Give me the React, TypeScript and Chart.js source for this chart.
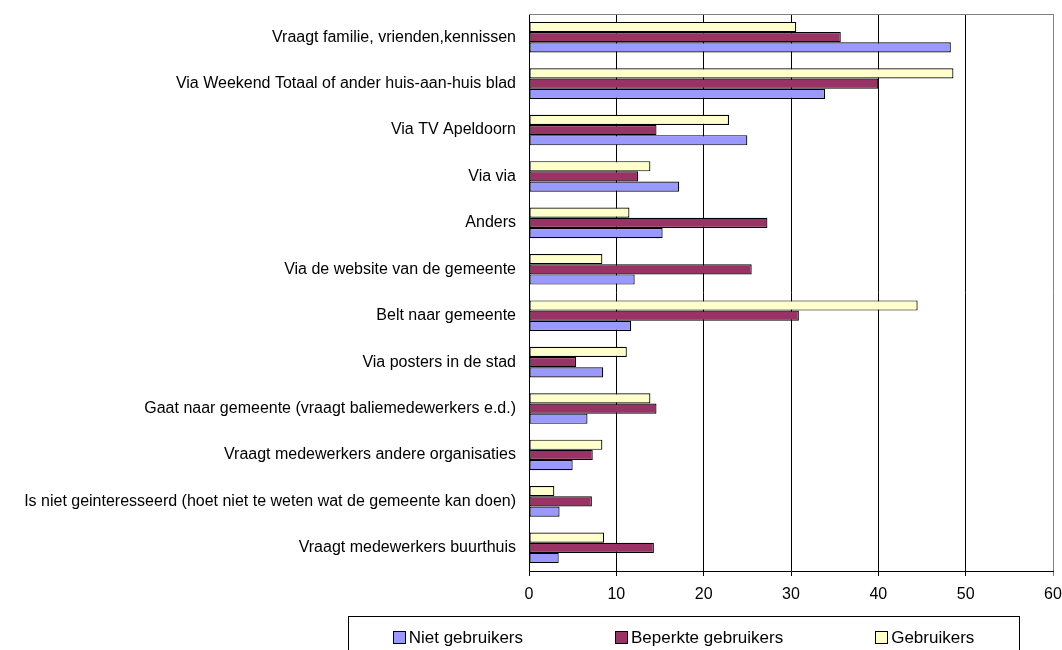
import React, { useEffect, useRef } from "react";
import { Chart, registerables } from "chart.js";

Chart.register(...registerables);

const categories = [
  "Vraagt familie, vrienden,kennissen",
  "Via Weekend Totaal of ander huis-aan-huis blad",
  "Via TV Apeldoorn",
  "Via via",
  "Anders",
  "Via de website van de gemeente",
  "Belt naar gemeente",
  "Via posters in de stad",
  "Gaat naar gemeente (vraagt baliemedewerkers e.d.)",
  "Vraagt medewerkers andere organisaties",
  "Is niet geinteresseerd (hoet niet te weten wat de gemeente kan doen)",
  "Vraagt medewerkers buurthuis",
];

const nietGebruikers = [48.3, 33.9, 25.0, 17.2, 15.3, 12.1, 11.7, 8.5, 6.7, 5.0, 3.5, 3.4];
const beperkteGebruikers = [35.7, 40.0, 14.6, 12.5, 27.3, 25.5, 30.9, 5.4, 14.6, 7.3, 7.2, 14.3];
const gebruikers = [30.6, 48.6, 22.9, 13.9, 11.5, 8.4, 44.5, 11.2, 13.9, 8.4, 2.9, 8.6];

const xMin = 0;
const xMax = 60;
const xStep = 10;

const FONT = '"Liberation Sans", Arial, sans-serif';

const frameAndLegend = {
  id: "frameAndLegend",
  beforeDatasetsDraw(chart: any) {
    const { ctx, chartArea } = chart;
    ctx.save();
    ctx.strokeStyle = "#808080";
    ctx.lineWidth = 1;
    ctx.beginPath();
    ctx.moveTo(chartArea.left, Math.round(chartArea.top) + 0.5);
    ctx.lineTo(chartArea.right, Math.round(chartArea.top) + 0.5);
    ctx.stroke();
    ctx.restore();
  },
  afterDraw(chart: any) {
    const ctx = chart.ctx;
    const boxLeft = 348;
    const boxRight = 1019;
    const boxTop = 616;
    const cy = 637;
    ctx.save();
    ctx.strokeStyle = "#000";
    ctx.lineWidth = 1;
    ctx.strokeRect(boxLeft + 0.5, boxTop + 0.5, boxRight - boxLeft, 60);
    ctx.font = "17px " + FONT;
    ctx.textBaseline = "middle";
    ctx.textAlign = "left";
    const items = chart.data.datasets.slice().reverse();
    const sq = 12;
    const gap = 4;
    const pad = 92;
    const widths = items.map((d: any) => sq + gap + ctx.measureText(d.label).width);
    const total = widths.reduce((a: number, b: number) => a + b, 0) + pad * (items.length - 1);
    let x = (boxLeft + boxRight) / 2 - total / 2;
    items.forEach((d: any, i: number) => {
      const sx = Math.round(x) + 0.5;
      const sy = Math.round(cy - sq / 2) + 0.5;
      ctx.fillStyle = d.backgroundColor;
      ctx.fillRect(sx, sy, sq, sq);
      ctx.strokeStyle = "#000";
      ctx.strokeRect(sx, sy, sq, sq);
      ctx.fillStyle = "#000";
      ctx.fillText(d.label, x + sq + gap, cy + 1);
      x += widths[i] + pad;
    });
    ctx.restore();
  },
};

export default function App() {
  const ref = useRef<HTMLCanvasElement | null>(null);

  useEffect(() => {
    if (!ref.current) return;
    const chart = new Chart(ref.current, {
      type: "bar",
      data: {
        labels: categories,
        datasets: [
          {
            label: "Gebruikers",
            data: gebruikers,
            backgroundColor: "#FFFFCC",
            borderColor: "#000",
            borderWidth: 1.2,
            borderSkipped: false,
          },
          {
            label: "Beperkte gebruikers",
            data: beperkteGebruikers,
            backgroundColor: "#993366",
            borderColor: "#000",
            borderWidth: 1.2,
            borderSkipped: false,
          },
          {
            label: "Niet gebruikers",
            data: nietGebruikers,
            backgroundColor: "#9999FF",
            borderColor: "#000",
            borderWidth: 1.2,
            borderSkipped: false,
          },
        ],
      },
      options: {
        indexAxis: "y",
        responsive: false,
        animation: false,
        datasets: {
          bar: { barPercentage: 1, categoryPercentage: 0.66 },
        },
        layout: { padding: { top: 14, right: 9, left: 0, bottom: 0 } },
        plugins: {
          legend: { display: false },
          tooltip: { enabled: false },
          title: { display: false },
        },
        scales: {
          x: {
            type: "linear",
            min: xMin,
            max: xMax,
            ticks: {
              stepSize: xStep,
              color: "#000",
              font: { family: FONT, size: 16 },
              padding: 9,
              maxRotation: 0,
            },
            grid: {
              color: (c: any) => (c.tick && c.tick.value === xMax ? "#808080" : "#000"),
              lineWidth: 1,
              tickLength: 5,
            },
            border: { color: "#000", width: 1 },
            afterFit: (s: any) => {
              s.height = 79;
              s.paddingLeft = 0;
              s.paddingRight = 0;
            },
          },
          y: {
            type: "category",
            ticks: {
              color: "#000",
              font: { family: FONT, size: 16 },
              padding: 13,
              autoSkip: false,
            },
            grid: { display: false, drawTicks: false },
            border: { display: true, color: "#000", width: 1 },
            afterFit: (s: any) => {
              s.width = 529;
              s.paddingTop = 0;
              s.paddingBottom = 0;
            },
          },
        },
      },
      plugins: [frameAndLegend],
    } as any);
    return () => chart.destroy();
  }, []);

  return (
    <div style={{ position: "absolute", left: 0, top: 0, width: 1062, height: 650, background: "#fff" }}>
      <canvas ref={ref} width={1062} height={650} style={{ display: "block" }} />
    </div>
  );
}
